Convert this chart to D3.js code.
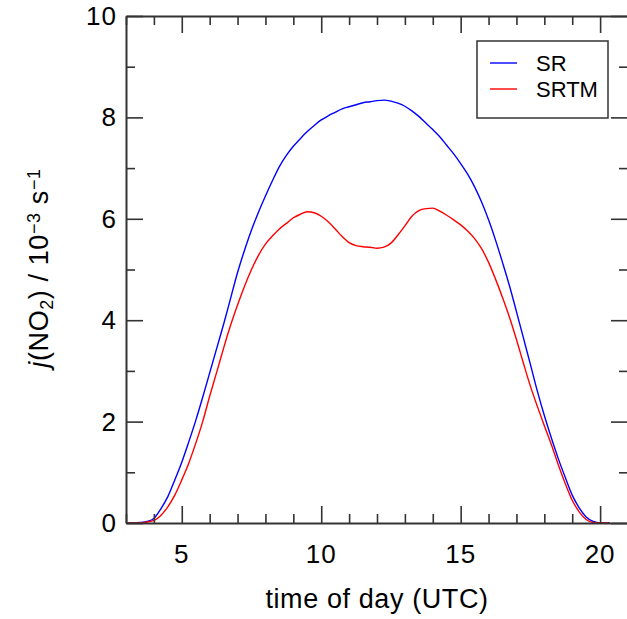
<!DOCTYPE html>
<html>
<head>
<meta charset="utf-8">
<script src="https://cdn.jsdelivr.net/npm/d3@7"></script>
<style>
  body { margin: 0; background: white; }
  svg { font-family: "Liberation Sans", Arial, sans-serif; }
</style>
</head>
<body>
<div id="chart"></div>
<script>
// ----------------------------------------
// DATA
// ----------------------------------------
const hours = [3.0, 3.25, 3.5, 3.75, 4.0, 4.25, 4.5, 4.75, 5.0, 5.25, 5.5, 5.75,
  6.0, 6.25, 6.5, 6.75, 7.0, 7.25, 7.5, 7.75, 8.0, 8.25, 8.5, 8.75,
  9.0, 9.25, 9.5, 9.75, 10.0, 10.25, 10.5, 10.75, 11.0, 11.25, 11.5, 11.75,
  12.0, 12.25, 12.5, 12.75, 13.0, 13.25, 13.5, 13.75, 14.0, 14.25, 14.5, 14.75,
  15.0, 15.25, 15.5, 15.75, 16.0, 16.25, 16.5, 16.75, 17.0, 17.25, 17.5, 17.75,
  18.0, 18.25, 18.5, 18.75, 19.0, 19.25, 19.5, 19.75, 20.0, 20.35];

const srValues = [0, 0, 0.01, 0.03, 0.09, 0.28, 0.52, 0.85, 1.2, 1.6, 2.02, 2.48,
  2.96, 3.44, 3.92, 4.43, 4.94, 5.38, 5.78, 6.13, 6.45, 6.75, 7.03, 7.25,
  7.43, 7.58, 7.72, 7.84, 7.95, 8.03, 8.1, 8.17, 8.21, 8.25, 8.29, 8.31,
  8.33, 8.34, 8.32, 8.28, 8.22, 8.13, 8.02, 7.89, 7.76, 7.62, 7.45, 7.28,
  7.09, 6.88, 6.63, 6.33, 5.98, 5.58, 5.14, 4.68, 4.17, 3.65, 3.13, 2.6,
  2.12, 1.68, 1.27, 0.9, 0.55, 0.3, 0.12, 0.03, 0, 0];

const srtmValues = [0, 0, 0, 0.02, 0.05, 0.15, 0.32, 0.55, 0.85, 1.18, 1.57, 2.0,
  2.5, 2.97, 3.45, 3.9, 4.3, 4.67, 5.0, 5.28, 5.5, 5.66, 5.8, 5.91,
  6.02, 6.09, 6.14, 6.12, 6.05, 5.94, 5.8, 5.65, 5.53, 5.47, 5.45, 5.44,
  5.42, 5.44, 5.52, 5.68, 5.86, 6.05, 6.16, 6.2, 6.21, 6.15, 6.07, 5.98,
  5.88, 5.76, 5.61, 5.41, 5.14, 4.81, 4.45, 4.06, 3.62, 3.15, 2.7, 2.3,
  1.92, 1.55, 1.15, 0.78, 0.45, 0.22, 0.07, 0.01, 0, 0];

const seriesNames = ["SR", "SRTM"];
const seriesColors = ["#0000ff", "#ff0000"];

const xMajor = [5, 10, 15, 20];
const xMinor = d3.range(3, 22, 1);
const yMajor = [0, 2, 4, 6, 8, 10];
const yMinor = d3.range(0, 11, 1);

// ----------------------------------------
// SETUP
// ----------------------------------------
const width = 627, height = 619;
const margin = { top: 16, right: -1, bottom: 96, left: 126 };
const axisColor = "#333";

const svg = d3.select("#chart")
  .append("svg")
  .attr("width", width)
  .attr("height", height);

const x = d3.scaleLinear().domain([3, 21]).range([margin.left, width - margin.right]);
const y = d3.scaleLinear().domain([0, 10]).range([height - margin.bottom, margin.top]);

// ----------------------------------------
// LINES
// ----------------------------------------
const line = d3.line()
  .x((d, i) => x(hours[i]))
  .y(d => y(d))
  .curve(d3.curveMonotoneX);

[srValues, srtmValues].forEach((vals, i) => {
  svg.append("path")
    .datum(vals)
    .attr("fill", "none")
    .attr("stroke", seriesColors[i])
    .attr("stroke-width", 1.4)
    .attr("d", line);
});

// ----------------------------------------
// AXES (ticks inside, all four sides)
// ----------------------------------------
const tickLen = d => xMajor.includes(d) ? 17 : 9;
const yTickLen = d => yMajor.includes(d) ? 17 : 9;

const axBottom = svg.append("g")
  .attr("transform", `translate(0,${y(0)})`)
  .call(d3.axisBottom(x).tickValues(xMinor).tickSizeInner(0).tickSizeOuter(0).tickFormat(""));
const axTop = svg.append("g")
  .attr("transform", `translate(0,${y(10)})`)
  .call(d3.axisTop(x).tickValues(xMinor).tickSizeInner(0).tickSizeOuter(0).tickFormat(""));
const axLeft = svg.append("g")
  .attr("transform", `translate(${x(3)},0)`)
  .call(d3.axisLeft(y).tickValues(yMinor).tickSizeInner(0).tickSizeOuter(0).tickFormat(""));
const axRight = svg.append("g")
  .attr("transform", `translate(${x(21)},0)`)
  .call(d3.axisRight(y).tickValues(yMinor).tickSizeInner(0).tickSizeOuter(0).tickFormat(""));

axBottom.selectAll(".tick line").attr("y2", d => -tickLen(d));
axTop.selectAll(".tick line").attr("y2", d => tickLen(d));
axLeft.selectAll(".tick line").attr("x2", d => yTickLen(d));
axRight.selectAll(".tick line").attr("x2", d => -yTickLen(d));

[axBottom, axTop, axLeft, axRight].forEach(g => {
  g.select(".domain").attr("stroke", axisColor).attr("stroke-width", 2);
  g.selectAll(".tick line").attr("stroke", axisColor).attr("stroke-width", 1.6);
});

// tick labels
svg.append("g").selectAll("text")
  .data(xMajor)
  .join("text")
  .attr("x", d => x(d))
  .attr("y", y(0) + 40)
  .attr("text-anchor", "middle")
  .style("font-size", "26px")
  .style("letter-spacing", "1px")
  .text(d => d);

svg.append("g").selectAll("text")
  .data(yMajor)
  .join("text")
  .attr("x", 117)
  .attr("y", d => y(d) + 9)
  .attr("text-anchor", "end")
  .style("font-size", "26px")
  .style("letter-spacing", "1px")
  .text(d => d);

// axis titles
svg.append("text")
  .attr("x", (x(3) + x(21)) / 2)
  .attr("y", 608)
  .attr("text-anchor", "middle")
  .style("font-size", "27px")
  .style("letter-spacing", "0.6px")
  .text("time of day (UTC)");

const yTitle = svg.append("text")
  .attr("transform", "translate(48,268) rotate(-90)")
  .attr("text-anchor", "middle")
  .style("font-size", "27px")
  .style("letter-spacing", "0.6px");
yTitle.append("tspan").style("font-style", "italic").text("j");
yTitle.append("tspan").text("(NO");
yTitle.append("tspan").attr("baseline-shift", "-25%").style("font-size", "18px").text("2");
yTitle.append("tspan").text(") / 10");
yTitle.append("tspan").attr("baseline-shift", "45%").style("font-size", "18px").text("\u22123");
yTitle.append("tspan").text(" s");
yTitle.append("tspan").attr("baseline-shift", "45%").style("font-size", "18px").text("\u22121");

// ----------------------------------------
// LEGEND
// ----------------------------------------
const legend = svg.append("g").attr("transform", "translate(477,41)");
legend.append("rect")
  .attr("width", 131)
  .attr("height", 77)
  .attr("fill", "white")
  .attr("stroke", axisColor)
  .attr("stroke-width", 1.5);

seriesNames.forEach((name, i) => {
  legend.append("line")
    .attr("x1", 13).attr("x2", 40)
    .attr("y1", 22 + i * 26).attr("y2", 22 + i * 26)
    .attr("stroke", seriesColors[i])
    .attr("stroke-width", 1.4);
  legend.append("text")
    .attr("x", 59)
    .attr("y", 30 + i * 26)
    .style("font-size", "22px")
    .text(name);
});
</script>
</body>
</html>
